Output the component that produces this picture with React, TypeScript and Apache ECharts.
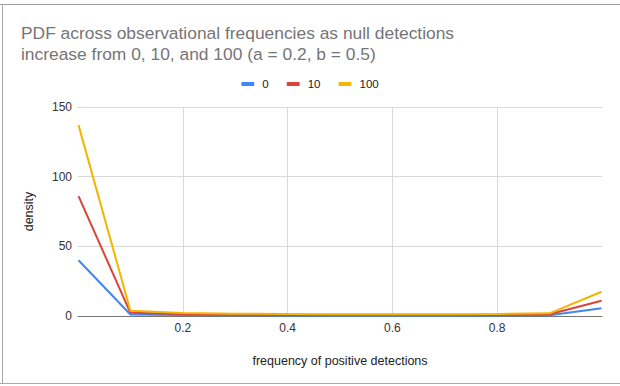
import React, { useEffect, useRef } from "react";
import * as echarts from "echarts";

const xValues = [0.001, 0.1, 0.2, 0.3, 0.4, 0.5, 0.6, 0.7, 0.8, 0.9, 0.999];
const seriesNames = ["0", "10", "100"];
const values0 = [40, 1.06, 0.65, 0.5, 0.43, 0.39, 0.38, 0.39, 0.43, 0.55, 5.5];
const values10 = [86, 2.3, 1.4, 1.1, 0.92, 0.84, 0.82, 0.84, 0.92, 1.2, 11];
const values100 = [137, 3.8, 2.2, 1.7, 1.46, 1.33, 1.29, 1.33, 1.46, 1.9, 17.4];
const colors = ["#4285F4", "#DB4437", "#F4B400"];
const titleText =
  "PDF across observational frequencies as null detections\nincrease from 0, 10, and 100 (a = 0.2, b = 0.5)";

export default function App() {
  const ref = useRef<HTMLDivElement>(null);
  useEffect(() => {
    if (!ref.current) return;
    const chart = echarts.init(ref.current, null, { renderer: "svg" });
    const all = [values0, values10, values100];
    const font = "'Liberation Sans', Arial, sans-serif";
    chart.setOption({
      animation: false,
      backgroundColor: "#ffffff",
      textStyle: { fontFamily: font },
      title: {
        text: titleText,
        left: 16,
        top: 17,
        textStyle: {
          fontSize: 17.4,
          lineHeight: 21.5,
          color: "#757575",
          fontWeight: "normal",
          fontFamily: font,
        },
      },
      legend: {
        top: 73,
        left: "center",
        icon: "roundRect",
        itemWidth: 13,
        itemHeight: 4,
        itemGap: 18,
        textStyle: {
          fontSize: 11.5,
          color: "#222222",
          fontFamily: font,
          padding: [0, 0, 0, 3],
        },
        data: seriesNames,
      },
      grid: { left: 78, right: 18, top: 107, bottom: 70, containLabel: false },
      xAxis: {
        type: "value",
        min: 0,
        max: 1,
        interval: 0.2,
        name: "frequency of positive detections",
        nameLocation: "middle",
        nameGap: 38,
        nameTextStyle: { fontSize: 12.5, color: "#222222" },
        axisLine: { show: true, lineStyle: { color: "#757575", width: 1 } },
        axisTick: { show: false },
        axisLabel: {
          showMinLabel: false,
          showMaxLabel: false,
          fontSize: 12,
          color: "#333333",
          margin: 6,
          formatter: (v: number) => v.toFixed(1),
        },
        splitLine: {
          show: true,
          showMinLine: false,
          showMaxLine: false,
          lineStyle: { color: "#d9d9d9", width: 1 },
        },
      },
      yAxis: {
        type: "value",
        min: 0,
        max: 150,
        interval: 50,
        name: "density",
        nameLocation: "middle",
        nameGap: 43,
        nameTextStyle: { fontSize: 12.5, color: "#222222" },
        axisLine: { show: false },
        axisTick: { show: false },
        axisLabel: { fontSize: 12, color: "#333333", margin: 6 },
        splitLine: { show: true, lineStyle: { color: "#d9d9d9", width: 1 } },
      },
      series: seriesNames.map((name, i) => ({
        name,
        type: "line",
        data: xValues.map((x, j) => [x, all[i][j]]),
        showSymbol: false,
        symbol: "none",
        lineStyle: { width: 2, color: colors[i] },
        itemStyle: { color: colors[i] },
        z: 2 + i,
      })),
      graphic: [
        {
          type: "line",
          shape: { x1: 0, y1: 4.5, x2: 620, y2: 4.5 },
          style: { stroke: "#9e9e9e", lineWidth: 1 },
        },
        {
          type: "line",
          shape: { x1: 2.5, y1: 4.5, x2: 2.5, y2: 383.5 },
          style: { stroke: "#aaaaaa", lineWidth: 1 },
        },
        {
          type: "line",
          shape: { x1: 0, y1: 383.5, x2: 620, y2: 383.5 },
          style: { stroke: "#aaaaaa", lineWidth: 1 },
        },
      ],
    });
    return () => chart.dispose();
  }, []);
  return (
    <div
      ref={ref}
      style={{ position: "fixed", left: 0, top: 0, width: 620, height: 386 }}
    />
  );
}
